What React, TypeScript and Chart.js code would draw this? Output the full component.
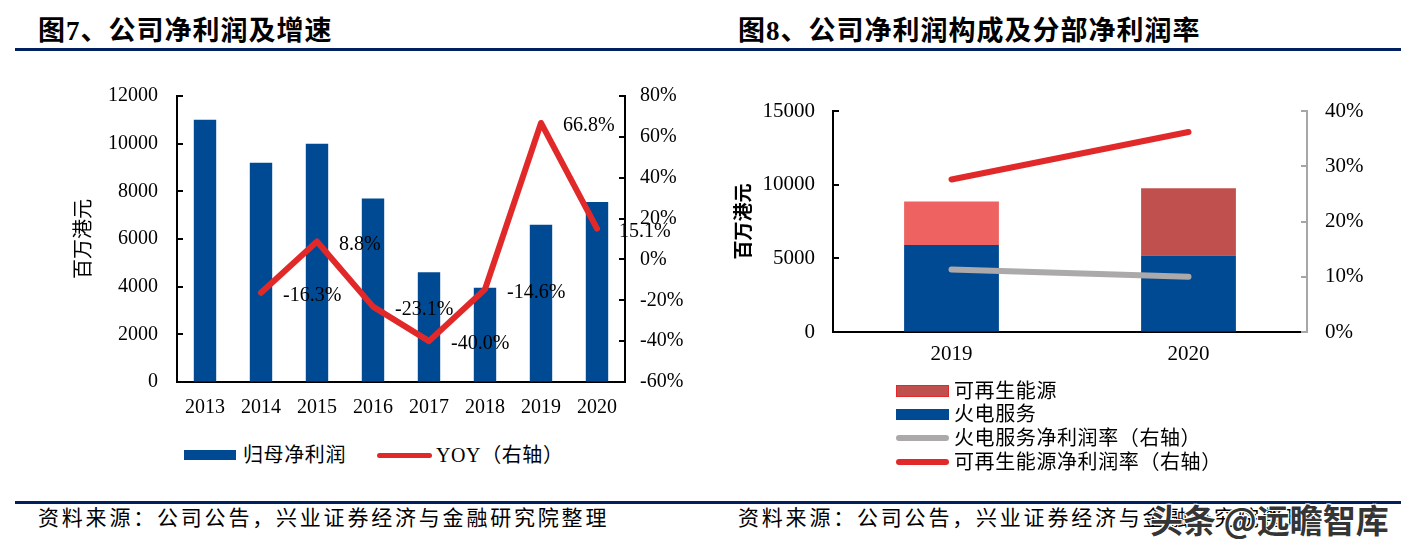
import React, { useEffect, useRef } from 'react';
import { Chart, registerables } from 'chart.js';

Chart.register(...registerables);

const SERIF = '"Liberation Serif", "Times New Roman", serif';
const MIXED = '"Liberation Serif", "Noto Sans CJK SC", sans-serif';
const NAVY = '#002060';
const BLUE = '#004A94';
const RED = '#E2292A';
const GRAY = '#ABA9A9';

// ---------- Figure 7 data ----------
const years7 = ['2013', '2014', '2015', '2016', '2017', '2018', '2019', '2020'];
const netProfit7 = [11000, 9200, 10000, 7700, 4600, 3950, 6600, 7550];
const yoy7: (number | null)[] = [null, -16.3, 8.8, -23.1, -40.0, -14.6, 66.8, 15.1];
const leftAxis7 = [0, 12000, 2000]; // min, max, step
const rightAxis7 = [-60, 80, 20];

// ---------- Figure 8 data ----------
const years8 = ['2019', '2020'];
const thermal8 = [5900, 5200];
const renewable8 = [2950, 4550];
const renewableColors8 = ['#EE6262', '#C0504D'];
const thermalMargin8 = [11.3, 10.0];
const renewableMargin8 = [27.6, 36.2];
const leftAxis8 = [0, 15000, 5000];
const rightAxis8 = [0, 40, 10];

const innerTicks = {
  id: 'innerTicks',
  afterDraw(chart: any, _args: any, opts: any) {
    const ctx = chart.ctx;
    for (const a of opts.axes || []) {
      const s = chart.scales[a.id];
      if (!s) continue;
      const x = a.side === 'left' ? s.right : s.left;
      const dir = a.side === 'left' ? 1 : -1;
      ctx.save();
      ctx.strokeStyle = a.color;
      ctx.lineWidth = 2;
      s.ticks.forEach((_t: any, i: number) => {
        const y = Math.round(s.getPixelForTick(i));
        ctx.beginPath();
        ctx.moveTo(x, y);
        ctx.lineTo(x + dir * a.len, y);
        ctx.stroke();
      });
      ctx.restore();
    }
  },
};

const yoyLabels = {
  id: 'yoyLabels',
  afterDatasetsDraw(chart: any) {
    const meta = chart.getDatasetMeta(0);
    const ctx = chart.ctx;
    ctx.save();
    ctx.font = `20px ${SERIF}`;
    ctx.fillStyle = '#000';
    ctx.textAlign = 'left';
    ctx.textBaseline = 'middle';
    meta.data.forEach((pt: any, i: number) => {
      const v = yoy7[i];
      if (v == null) return;
      ctx.fillText(v.toFixed(1) + '%', pt.x + 22, pt.y + 3);
    });
    ctx.restore();
  },
};

function useChart(factory: () => any) {
  const ref = useRef<HTMLCanvasElement | null>(null);
  useEffect(() => {
    if (!ref.current) return;
    const chart = new Chart(ref.current, factory());
    return () => chart.destroy();
  }, []);
  return ref;
}

const plain = (v: any) => String(v);
const pct = (v: any) => v + '%';

function Chart7() {
  const ref = useChart(() => ({
    type: 'bar',
    data: {
      labels: years7,
      datasets: [
        {
          type: 'line',
          label: 'YOY（右轴）',
          data: yoy7,
          yAxisID: 'y1',
          borderColor: RED,
          borderWidth: 6,
          pointRadius: 0,
          tension: 0,
          borderCapStyle: 'round',
          borderJoinStyle: 'round',
          order: 0,
        },
        {
          type: 'bar',
          label: '归母净利润',
          data: netProfit7,
          yAxisID: 'y',
          backgroundColor: BLUE,
          barPercentage: 0.4,
          categoryPercentage: 1,
          order: 1,
        },
      ],
    },
    options: {
      responsive: false,
      animation: false,
      layout: { padding: { left: 60, top: 96, right: 0, bottom: 0 } },
      plugins: {
        legend: { display: false },
        tooltip: { enabled: false },
        innerTicks: {
          axes: [
            { id: 'y', side: 'left', color: '#000', len: 6 },
            { id: 'y1', side: 'right', color: '#000', len: 6 },
          ],
        },
      },
      scales: {
        x: {
          grid: { display: true, drawOnChartArea: false, drawTicks: false },
          border: { display: true, color: '#000', width: 2 },
          ticks: { font: { family: SERIF, size: 20 }, color: '#000', padding: 14, maxRotation: 0 },
          afterFit: (s: any) => { s.height = 58; },
        },
        y: {
          position: 'left',
          min: leftAxis7[0],
          max: leftAxis7[1],
          ticks: {
            stepSize: leftAxis7[2],
            font: { family: SERIF, size: 20 },
            color: '#000',
            padding: 19,
            callback: plain,
          },
          grid: { display: true, drawOnChartArea: false, drawTicks: false },
          border: { display: true, color: '#000', width: 2 },
          title: {
            display: true,
            text: '百万港元',
            font: { family: MIXED, size: 20 },
            color: '#000',
            padding: { top: 13, bottom: 0 },
          },
          afterFit: (s: any) => { s.width = 117; },
        },
        y1: {
          position: 'right',
          min: rightAxis7[0],
          max: rightAxis7[1],
          ticks: {
            stepSize: rightAxis7[2],
            font: { family: SERIF, size: 20 },
            color: '#000',
            padding: 15,
            callback: pct,
          },
          grid: { display: true, drawOnChartArea: false, drawTicks: false },
          border: { display: true, color: '#000', width: 2 },
          afterFit: (s: any) => { s.width = 87; },
        },
      },
    },
    plugins: [innerTicks, yoyLabels],
  }));
  return (
    <canvas ref={ref} width={712} height={440} style={{ position: 'absolute', left: 0, top: 0 }} />
  );
}

function Chart8() {
  const ref = useChart(() => ({
    type: 'bar',
    data: {
      labels: years8,
      datasets: [
        {
          type: 'line',
          label: '可再生能源净利润率（右轴）',
          data: renewableMargin8,
          yAxisID: 'y1',
          borderColor: RED,
          borderWidth: 6,
          pointRadius: 0,
          borderCapStyle: 'round',
          order: 0,
        },
        {
          type: 'line',
          label: '火电服务净利润率（右轴）',
          data: thermalMargin8,
          yAxisID: 'y1',
          borderColor: GRAY,
          borderWidth: 6,
          pointRadius: 0,
          borderCapStyle: 'round',
          order: 1,
        },
        {
          type: 'bar',
          label: '火电服务',
          data: thermal8,
          yAxisID: 'y',
          backgroundColor: BLUE,
          barPercentage: 0.4,
          categoryPercentage: 1,
          stack: 's',
          order: 2,
        },
        {
          type: 'bar',
          label: '可再生能源',
          data: renewable8,
          yAxisID: 'y',
          backgroundColor: renewableColors8,
          barPercentage: 0.4,
          categoryPercentage: 1,
          stack: 's',
          order: 2,
        },
      ],
    },
    options: {
      responsive: false,
      animation: false,
      layout: { padding: { left: 10, top: 111, right: 0, bottom: 0 } },
      plugins: {
        legend: { display: false },
        tooltip: { enabled: false },
        innerTicks: {
          axes: [
            { id: 'y', side: 'left', color: '#000', len: 6 },
            { id: 'y1', side: 'right', color: '#A6A6A6', len: 6 },
          ],
        },
      },
      scales: {
        x: {
          stacked: true,
          grid: { display: true, drawOnChartArea: false, drawTicks: false },
          border: { display: true, color: '#000', width: 2 },
          ticks: { font: { family: SERIF, size: 21 }, color: '#000', padding: 10, maxRotation: 0 },
          afterFit: (s: any) => { s.height = 48; },
        },
        y: {
          position: 'left',
          stacked: true,
          min: leftAxis8[0],
          max: leftAxis8[1],
          ticks: {
            stepSize: leftAxis8[2],
            font: { family: SERIF, size: 21 },
            color: '#000',
            padding: 18,
            callback: plain,
          },
          grid: { display: true, drawOnChartArea: false, drawTicks: false },
          border: { display: true, color: '#000', width: 2 },
          title: {
            display: true,
            text: '百万港元',
            font: { family: MIXED, size: 19, weight: 'bold' },
            color: '#000',
            padding: { top: 12, bottom: 0 },
          },
          afterFit: (s: any) => { s.width = 111; },
        },
        y1: {
          position: 'right',
          min: rightAxis8[0],
          max: rightAxis8[1],
          ticks: {
            stepSize: rightAxis8[2],
            font: { family: SERIF, size: 21 },
            color: '#000',
            padding: 18,
            callback: pct,
          },
          grid: { display: true, drawOnChartArea: false, drawTicks: false },
          border: { display: true, color: '#A6A6A6', width: 2 },
          afterFit: (s: any) => { s.width = 116; },
        },
      },
    },
    plugins: [innerTicks],
  }));
  return (
    <canvas ref={ref} width={711} height={380} style={{ position: 'absolute', left: 712, top: 0 }} />
  );
}

const abs = (o: any): React.CSSProperties => ({ position: 'absolute', ...o });

function Text({ x, cy, size, children, bold, spacing }: any) {
  return (
    <div
      style={abs({
        left: x,
        top: cy - size * 0.6,
        height: size * 1.2,
        lineHeight: `${size * 1.2}px`,
        fontFamily: MIXED,
        fontSize: size,
        fontWeight: bold ? 'bold' : 'normal',
        letterSpacing: spacing ?? 0,
        whiteSpace: 'nowrap',
        color: '#000',
      })}
    >
      {children}
    </div>
  );
}

export default function App() {
  return (
    <div style={abs({ left: 0, top: 0, width: 1423, height: 547, background: '#fff', overflow: 'hidden' })}>
      <Text x={38} cy={31} size={27} bold spacing={1}>图7、公司净利润及增速</Text>
      <Text x={738} cy={31} size={27} bold spacing={1}>图8、公司净利润构成及分部净利润率</Text>
      <div style={abs({ left: 15, top: 48, width: 1386, height: 3, background: NAVY })} />

      <Chart7 />
      <Chart8 />

      {/* legend figure 7 */}
      <div style={abs({ left: 184, top: 450, width: 52, height: 10, background: BLUE })} />
      <Text x={243} cy={455} size={20} spacing={0.6}>归母净利润</Text>
      <div style={abs({ left: 377, top: 453, width: 55, height: 5, borderRadius: 3, background: RED })} />
      <Text x={436} cy={455} size={20} spacing={0.6}>YOY（右轴）</Text>

      {/* legend figure 8 */}
      <div style={abs({ left: 896, top: 385, width: 53, height: 12, background: '#C0504D', border: `1.5px solid ${RED}`, boxSizing: 'border-box' })} />
      <Text x={954} cy={391} size={20} spacing={0.6}>可再生能源</Text>
      <div style={abs({ left: 896, top: 409, width: 53, height: 11, background: BLUE })} />
      <Text x={954} cy={414} size={20} spacing={0.6}>火电服务</Text>
      <div style={abs({ left: 896, top: 435, width: 53, height: 6, borderRadius: 3, background: GRAY })} />
      <Text x={954} cy={438} size={20} spacing={0.6}>火电服务净利润率（右轴）</Text>
      <div style={abs({ left: 896, top: 459, width: 53, height: 6, borderRadius: 3, background: RED })} />
      <Text x={954} cy={462} size={20} spacing={0.6}>可再生能源净利润率（右轴）</Text>

      <div style={abs({ left: 15, top: 501, width: 1386, height: 3, background: NAVY })} />
      <Text x={38} cy={519} size={21} spacing={2.8}>资料来源：公司公告，兴业证券经济与金融研究院整理</Text>
      <Text x={738} cy={519} size={21} spacing={2.8}>资料来源：公司公告，兴业证券经济与金融研究院整理</Text>

      <div
        style={abs({
          left: 1150,
          top: 498,
          fontFamily: '"Noto Sans CJK SC", sans-serif',
          fontWeight: 'bold',
          fontSize: 33,
          lineHeight: '42px',
          color: 'rgba(25,25,25,0.9)',
          whiteSpace: 'nowrap',
          textShadow: '1px 1px 0 #fff, -1px -1px 0 #fff, 1px -1px 0 #fff, -1px 1px 0 #fff',
        })}
      >
        头条 @远瞻智库
      </div>
    </div>
  );
}
